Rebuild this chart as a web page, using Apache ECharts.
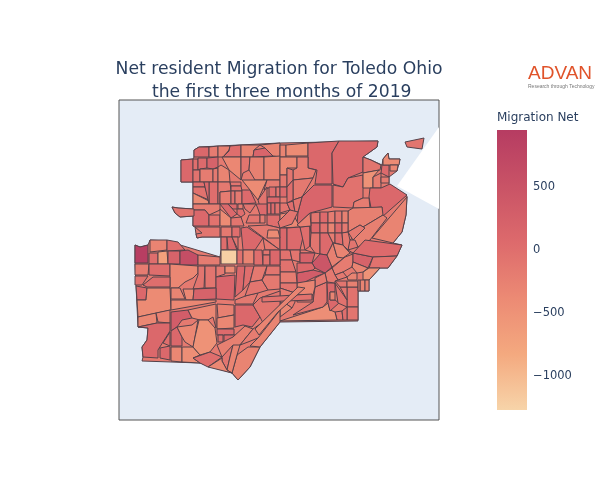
<!DOCTYPE html>
<html>
<head>
<meta charset="utf-8">
<title>Net resident Migration for Toledo Ohio</title>
<script src="https://cdn.jsdelivr.net/npm/echarts@6/dist/echarts.min.js"></script>
<style>
html, body { margin: 0; padding: 0; background: #fff; }
#main { width: 600px; height: 500px; }
</style>
</head>
<body>
<div id="main"></div>
<script>
// tract outlines in map grid units, one tract per line, values in the same order
var countyRing = ['194,157 194,150 199,147 280,143 378,141 377,147 363,157 371,160 382,165 383,159 388,153 389,159 400,159 397,171 389,177 389,184 407,196 406,215 402,232 393,243 402,245 397,256 388,268 380,268 369,280 369,291 358,291 358,321 280,322 260,347 250,367 238,380 232,373 210,366 200,363 142,361 143,357 142,347 147,340 148,328 138,327 135,264 135,245 140,247 148,245 150,240 167,241 220,257 221,250 221,237 202,237 197,238 196,234 195,227 193,226 193,216 180,217 175,213 172,207 178,208 193,209 193,182 181,182 181,160 193,159'];
var countyValue = [-170];
var northRings = [
'194,157 194,150 199,147 209,147 209,157','209,147 218,146 218,157 209,157','218,146 230,146 229,150 223,157 218,157',
'230,146 241,145 241,157 223,157 229,151','241,145 260,145 254,150 253,157 241,157','260,145 280,143 280,157 273,156 265,148',
'254,150 265,148 273,156 253,157','181,160 193,159 193,182 181,182','193,159 198,159 198,170 193,170',
'198,158 207,158 207,168 200,169 198,170','207,158 218,157 218,167 213,169 207,168','193,170 200,170 200,182 193,182',
'200,169 213,169 213,182 200,182','213,169 218,168 218,182 213,182','218,167 221,165 229,170 230,182 218,182',
'222,157 241,157 241,180 229,170','241,157 250,157 249,170 243,173 241,180','250,157 264,157 264,180 255,180 249,170',
'264,157 280,156 280,180 264,180','193,182 204,182 205,187 193,187','193,187 205,187 209,200 193,193',
'193,193 215,204 193,204','209,182 218,182 218,204 209,204','204,182 209,182 209,204 205,187',
'218,182 230,182 231,191 220,192 220,204 218,204','220,192 231,191 231,204 220,204','230,182 241,182 241,186 231,186',
'231,186 241,186 242,191 231,191','231,191 235,191 235,204 231,204','235,191 242,191 242,204 235,204',
'242,180 267,180 258,200 250,190','242,190 250,190 256,203 242,204','267,180 280,180 280,187 268,188 264,190',
'269,187 276,187 276,197 269,197','276,187 280,187 280,197 276,197','267,197 280,197 280,203 267,203',
'267,203 271,203 271,214 267,214','271,203 275,203 275,214 271,214','275,203 280,203 280,214 275,214',
'258,200 267,187 267,214 262,214','193,204 220,204 220,210 209,215 205,210 193,210','193,210 205,210 209,215 209,226 193,226',
'209,215 220,215 220,226 209,226','220,209 231,218 231,226 220,226','220,204 228,204 237,214 231,218',
'228,204 237,204 237,209 233,209','238,204 243,204 243,209 238,209','231,218 241,217 244,226 231,226',
'237,209 243,209 245,214 241,217 237,214','243,204 256,204 250,213 245,209','256,204 267,204 267,215 260,215 258,209',
'249,215 260,215 260,223 246,223','260,215 265,215 265,223 260,223','267,215 280,215 280,228 267,225',
'195,227 220,227 220,237 202,237 197,238 196,234 202,233','221,227 232,227 232,237 221,237','232,227 240,227 240,237 232,237',
'221,237 227,237 227,250 221,250','227,237 232,237 237,250 228,250','232,237 238,237 238,250',
'172,207 178,208 194,209 194,216 180,217 175,213','241,228 247,227 263,238 255,250 243,250','248,226 267,225 280,228 280,250',
'263,238 280,250 265,250',
// north east
'280,145 286,145 286,157 280,157','286,145 308,143 308,156 286,156','308,143 339,141 332,153 332,184 315,184 317,170 308,168',
'339,141 378,141 377,147 363,157 363,172 348,178 343,187 333,184 332,153','280,157 297,157 297,168 287,168 287,175 280,175',
'297,157 308,157 308,168 316,170 313,178 293,180 293,170 297,168','280,175 287,175 287,187 280,187','287,168 293,170 293,180 287,187',
'293,180 313,178 302,197 293,200','280,187 287,187 287,197 280,197','287,187 293,180 293,200 287,203 287,197',
'314,185 332,185 332,207 310,213 297,225 298,212 302,197','333,185 343,187 348,178 363,175 363,198 354,202 353,208 333,207',
'363,157 371,160 381,165 380,170 363,173','363,173 379,170 373,177 373,188 363,188','373,177 381,173 381,188 373,188',
'382,165 389,165 389,177 381,173','381,177 389,177 389,183 381,183','383,159 388,153 389,159 400,159 399,165 383,165',
'390,165 398,165 397,171 390,171','405,142 424,138 422,149 407,147','370,188 381,188 390,184 407,195 382,217 382,207 371,208 369,197',
'363,198 369,198 370,208 353,208 354,202','348,211 353,208 382,207 383,215 363,227 360,225 348,232',
'407,197 406,215 402,232 393,243 372,238','360,232 363,227 383,215 387,218 370,240 358,247 350,240','348,232 360,225 365,228 358,235 353,240',
'348,240 355,240 358,247 348,250'
];
var northValues = [
100,-200,-250,0,-300,-300,150,100,0,50,200,-50,-200,-150,-300,-350,-100,-250,-300,0,-50,-400,0,100,-150,-200,-100,-50,-50,-150,-400,50,-200,
0,-100,100,0,50,-50,-100,-200,100,-50,-400,100,50,-200,-100,0,-100,50,-100,-200,0,
-100,-150,0,0,100,-100,-100,100,-150,-150,
-300,-400,100,100,-350,-200,-150,-100,-150,50,0,150,-50,-100,-500,-200,50,-200,-400,-350,-100,100,-200,-250,-300,-250,-150,-100
];
var centerRings = [
'311,213 320,212 320,223 311,223','320,212 328,212 328,223 320,223','328,212 335,211 335,223 328,223','335,211 342,211 342,223 335,223','342,211 348,211 348,223 342,223',
'311,223 320,223 320,233 311,233','320,223 328,223 328,233 320,233','328,223 335,223 335,233 328,233','335,223 342,223 342,233 335,233','342,223 348,223 348,232 342,233',
'310,233 320,233 320,254 315,253 310,246','320,233 328,233 333,243 327,255 320,254','328,233 335,233 335,243 333,243','335,233 342,233 343,245 335,243','342,233 348,232 350,240 348,250 343,245',
'280,203 287,203 290,210 280,213','287,203 293,201 295,212 290,210','293,200 302,197 298,212 295,212','280,214 292,212 300,227 280,228',
'280,228 287,228 287,250 280,250','287,228 300,227 303,237 300,250 287,250','300,227 310,226 310,246 305,250','300,250 305,250 315,253 300,253',
'280,250 290,250 292,260 280,260','290,250 300,250 300,262 292,260','300,253 315,253 312,263 300,263','312,263 320,254 327,255 332,267 325,273 315,268',
'327,255 333,243 337,257 345,257 332,267','333,243 343,245 350,253 343,258 337,257','343,245 348,250 353,253 350,253',
'332,268 345,257 353,254 353,262 352,267 343,272 335,275','353,253 373,257 368,268 353,262','353,253 365,240 402,245 397,256 373,257',
'373,257 397,256 388,268 369,268','369,268 380,268 369,280 363,280 363,272','360,280 365,280 365,291 360,291','365,280 369,280 369,291 365,291',
'347,287 358,287 358,307 347,307','347,307 358,307 358,320 347,320','335,312 342,311 343,320 337,320','342,311 347,307 347,320 343,320',
'280,321 323,307 328,303 330,310 335,312 337,320','315,287 327,282 327,302 323,307 293,315 313,302',
'327,283 335,283 335,292 330,292 330,300 335,300 339,303 330,311 328,303','335,283 347,300 347,307 338,303','330,292 335,292 335,300 330,300','340,287 347,287 347,300',
'353,262 368,268 363,272 357,273 352,267','335,275 343,272 347,277 338,280','347,277 352,273 357,273 357,280 348,280',
'335,281 347,281 347,287 340,287','347,281 358,281 358,287 347,287','358,280 360,280 360,291 358,291',
'332,268 335,275 338,280 335,281 335,283 327,282 325,273','297,273 313,270 325,273 315,277 303,283 297,283','315,278 325,273 327,282 315,287',
'280,260 292,260 296,272 280,272','280,272 296,272 297,283 280,283','297,263 312,263 315,268 313,270 297,273','297,283 315,280 315,287 313,295 297,295','297,295 313,295 313,302 297,302',
'280,283 297,283 297,295 295,293 280,288','280,288 295,293 295,302 292,308 285,303 280,303','280,303 285,303 292,308 280,317'
];
var centerValues = [
-100,50,-200,-100,-250,100,-50,-300,50,-150,-100,50,-200,0,-150,-100,0,-100,-350,100,50,0,-150,-50,-100,200,450,-250,-300,-100,-200,200,50,-50,-500,-300,-250,-50,-100,-100,0,-450,-100,100,-50,-300,-100,-300,-150,-300,-100,-250,-200,-150,300,-150,-50,-200,100,-300,-150,-100,-200,-350
];
var westRings = [
'135,245 140,247 148,245 148,263 135,263','150,240 167,240 167,250 150,252','149,253 158,253 158,264 149,264','158,252 167,251 168,264 158,264',
'167,240 178,242 185,250 167,251','168,251 180,251 180,264 168,264','180,251 188,250 198,255 198,265 180,265','198,255 220,257 220,265 198,265',
'221,250 237,250 237,264 221,264','135,264 149,264 148,275 135,275','149,264 170,264 170,276 149,275',
'170,264 198,266 198,273 193,278 185,282 178,288 170,288','198,266 205,266 204,288 193,289 198,275','205,266 216,266 216,288 205,288',
'216,266 225,266 225,274 216,277','225,266 235,266 235,273 225,273','216,277 235,275 234,300 216,299','135,276 148,276 142,285 135,285',
'136,286 147,288 146,300 137,300','143,285 153,277 170,277 170,287 147,287','147,288 170,288 171,310 138,317 137,300 146,300',
'171,288 180,288 185,299 171,299','183,289 194,289 193,300 186,300','194,289 216,288 216,299 193,300','171,300 216,300 216,302 171,310',
'138,317 156,313 157,323 138,327','156,313 170,310 170,323 158,322','171,312 188,310 192,318 182,320 177,327 171,331',
'188,310 216,304 216,328 213,317 208,320 200,320 192,318','138,327 157,323 170,323 170,331 163,342 158,350 158,358 143,357 142,347 147,340 148,328',
'170,332 170,346 163,343','160,348 170,346 170,360 160,358','171,331 177,327 182,337 182,346 171,346','171,347 182,347 182,362 171,361',
'177,327 192,325 198,320 195,337 193,347 185,342 182,337','182,347 193,347 200,355 193,358 200,363 182,362',
'199,320 208,320 215,328 217,343 210,352 200,355 193,347 195,337','193,358 210,352 222,357 208,367 200,363',
'217,304 234,305 234,315 218,318','217,318 234,315 234,328 217,329','235,305 253,305 260,317 252,327 243,325 235,327',
'235,300 248,295 258,293 253,304 235,304','237,266 245,266 243,290 235,297','245,266 254,266 250,282 243,290','254,266 267,266 262,280 250,282',
'250,282 262,280 268,290 258,293 245,296','237,250 243,250 243,264 237,264','243,250 254,250 254,264 243,264','254,250 262,250 263,265 254,265',
'263,250 270,250 270,255 263,255','263,255 270,255 270,265 263,265','270,250 280,250 280,265 270,265','267,266 280,266 280,275 265,275',
'265,275 280,275 280,289 268,290 262,280','260,298 280,291 280,305 263,323 260,317 253,305','217,329 234,329 234,335 217,335','218,335 223,335 223,342 218,342',
'224,335 235,335 227,343 224,343','233,337 245,326 253,329 240,345 222,357 217,345','253,329 263,322 280,307 268,328 258,338 248,342 240,345',
'260,347 250,367 238,380 232,373 237,355 248,347','250,346 260,347 280,322 280,310 258,338','222,357 233,345 230,357 227,370 222,361',
'233,345 240,345 237,355 232,373 227,370 230,357','208,367 222,358 222,361 227,370 232,373'
];
var westValues = [
900,-300,0,-700,0,200,600,-200,-1230,-200,0,-350,-100,-100,-150,-400,150,-50,100,0,-400,-300,-350,200,-350,-350,-250,300,-350,100,0,100,100,-350,-350,-450,-500,0,-250,-350,100,-150,100,0,-150,-100,-50,-300,0,-100,-50,100,-100,-150,-100,50,0,100,-250,-200,-300,-300,-100,-300,-350
];
var extraRings = [
'278,222 290,210 298,212 292,224 280,228','268,230 278,230 280,238 267,238','262,297 312,294 312,300 285,301 262,302',
'298,287 305,288 278,312 259,335 255,329','297,225 310,213 311,226 300,227','310,226 311,233 310,246'
];
var extraValues = [-100,-400,-50,-300,-250,-150];
var colorbarTicks = [-1000, -500, 0, 500];
var colorRange = ['#f7d4a9', '#f4a97f', '#ec8a74', '#dd6a6c', '#c95366', '#b63c62'];

function toFeature(ring, i) {
	return {
		type: 'Feature',
		properties: { name: 'T' + i },
		geometry: {
			type: 'Polygon',
			coordinates: [ring.split(' ').map(function(p){ return p.split(',').map(Number); })]
		}
	};
}

var rings = countyRing.concat(northRings, centerRings, westRings, extraRings);
var values = countyValue.concat(northValues, centerValues, westValues, extraValues);
var tractData = rings.map(function(r, i){ return { name: 'T' + i, value: values[i] }; });

echarts.registerMap('toledo', { type: 'FeatureCollection', features: rings.map(toFeature) });
// background: land colour panel and the empty wedge at the lake
echarts.registerMap('lake', { type: 'FeatureCollection', features: [
	toFeature('119,100 439,100 439,420 119,420', 'panel'),
	toFeature('397,186 439,127 439,209', 'gap')
]});

var flat = { project: function(p){ return [p[0], p[1]]; }, unproject: function(p){ return [p[0], p[1]]; } };
var frame = [[119, 100], [439, 420]];
var fontName = '"DejaVu Sans", Verdana, sans-serif';

// the visualMap bar of v6 has rounded ends, so the colour bar is a plain gradient rect
var barStops = colorRange.map(function(c, i){ return { offset: i / (colorRange.length - 1), color: c }; });

var myChart = echarts.init(document.getElementById('main'), null, { renderer: 'canvas' });
myChart.setOption({
	animation: false,
	title: [
		{
			text: 'Net resident Migration for Toledo Ohio\n the first three months of 2019',
			left: 279, top: 58, textAlign: 'center', padding: 0,
			textStyle: { fontFamily: fontName, fontSize: 17.2, fontWeight: 'normal', color: '#2a3f5f', lineHeight: 23 }
		},
		{
			text: 'ADVAN', left: 528, top: 64, padding: 0,
			textStyle: { fontFamily: '"Liberation Sans", sans-serif', fontSize: 19, fontWeight: 500, color: '#e0532a' }
		},
		{
			text: 'Research through Technology', left: 528, top: 84, padding: 0,
			textStyle: { fontFamily: '"Liberation Sans", sans-serif', fontSize: 5, fontWeight: 'normal', color: '#777' }
		},
		{
			text: 'Migration Net', left: 497, top: 112, padding: 0,
			textStyle: { fontFamily: fontName, fontSize: 12, fontWeight: 'normal', color: '#2a3f5f' }
		}
	],
	graphic: [{
		type: 'rect', left: 497, top: 130, silent: true,
		shape: { width: 30, height: 280 },
		style: { fill: new echarts.graphic.LinearGradient(0, 1, 0, 0, barStops) }
	}],
	grid: { left: 497, top: 131, width: 30, height: 280, show: false },
	xAxis: { type: 'value', show: false },
	yAxis: {
		type: 'value', position: 'right', min: -1278, max: 944,
		axisLine: { show: false }, axisTick: { show: false }, splitLine: { show: false },
		axisLabel: {
			customValues: colorbarTicks, margin: 6,
			fontFamily: fontName, fontSize: 11.5, color: '#2a3f5f',
			formatter: function(v){ return String(v).replace('-', '\u2212'); }
		}
	},
	visualMap: {
		type: 'continuous', show: false, min: -1278, max: 944, seriesIndex: 0,
		inRange: { color: colorRange }
	},
	geo: {
		map: 'lake', projection: flat, boundingCoords: frame, silent: true, roam: false,
		left: 119, top: 100, width: 320, height: 320,
		itemStyle: { areaColor: '#e4ecf6', borderColor: '#555', borderWidth: 1, borderJoin: 'miter' },
		emphasis: { disabled: true },
		label: { show: false },
		regions: [{ name: 'Tgap', itemStyle: { areaColor: '#fff', borderWidth: 0 } }]
	},
	series: [{
		type: 'map', map: 'toledo', projection: flat, boundingCoords: frame, silent: true, roam: false,
		left: 119, top: 100, width: 320, height: 320,
		itemStyle: { borderColor: '#54424a', borderWidth: 1 },
		emphasis: { disabled: true },
		label: { show: false },
		data: tractData
	}]
});
</script>
</body>
</html>
